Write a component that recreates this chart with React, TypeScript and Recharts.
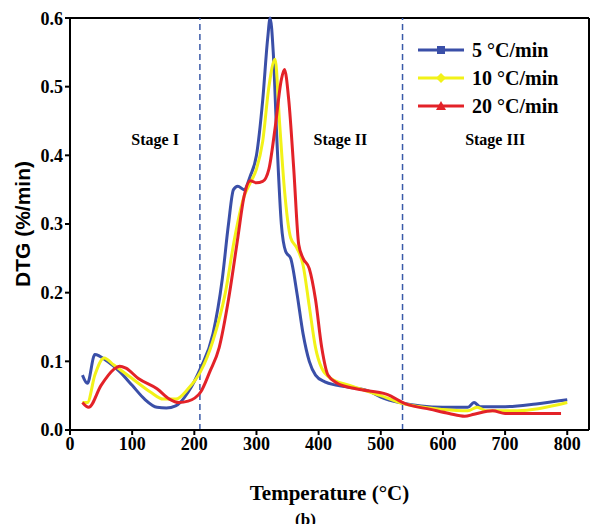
import React from 'react';
import { LineChart, Line, XAxis, YAxis, ReferenceLine, Label } from 'recharts';

const s5 = [[20,0.08],[28,0.068],[40,0.11],[60,0.1],[80,0.085],[100,0.065],[120,0.045],[140,0.033],[155,0.032],[170,0.035],[190,0.055],[210,0.09],[230,0.14],[245,0.22],[255,0.3],[263,0.35],[270,0.355],[280,0.35],[290,0.37],[300,0.4],[310,0.48],[318,0.57],[322,0.6],[327,0.55],[333,0.42],[340,0.3],[347,0.26],[355,0.25],[365,0.2],[375,0.14],[385,0.1],[395,0.08],[410,0.07],[430,0.065],[480,0.057],[500,0.048],[530,0.04],[600,0.033],[640,0.033],[650,0.04],[660,0.034],[700,0.034],[750,0.038],[800,0.044]];
const s10 = [[20,0.04],[28,0.04],[40,0.08],[55,0.105],[70,0.095],[100,0.075],[130,0.055],[150,0.045],[170,0.045],[190,0.06],[210,0.085],[230,0.13],[250,0.2],[265,0.28],[280,0.34],[290,0.36],[300,0.38],[310,0.42],[320,0.5],[330,0.54],[337,0.45],[345,0.35],[355,0.28],[365,0.265],[375,0.24],[385,0.18],[395,0.12],[405,0.09],[420,0.075],[450,0.065],[500,0.05],[530,0.04],[600,0.03],[640,0.028],[655,0.033],[670,0.028],[720,0.028],[800,0.04]];
const s20 = [[20,0.04],[30,0.033],[50,0.065],[70,0.088],[80,0.093],[90,0.09],[110,0.075],[140,0.06],[160,0.045],[175,0.04],[190,0.042],[210,0.055],[225,0.085],[240,0.12],[255,0.19],[270,0.28],[280,0.34],[290,0.363],[300,0.36],[310,0.362],[320,0.38],[330,0.44],[340,0.51],[345,0.525],[352,0.48],[360,0.38],[368,0.27],[375,0.25],[385,0.235],[395,0.19],[405,0.12],[415,0.08],[430,0.068],[460,0.06],[510,0.052],[540,0.038],[580,0.03],[610,0.024],[635,0.02],[650,0.023],[680,0.028],[700,0.024],[790,0.024]];
const xTicks = [0,100,200,300,400,500,600,700,800];
const yTicks = [0,0.1,0.2,0.3,0.4,0.5,0.6];
const stageLines = [209, 535];
const stages = [{ x: 137, text: 'Stage I' }, { x: 435, text: 'Stage II' }, { x: 684, text: 'Stage III' }];
const series = [
  { name: '5 °C/min', color: '#3a4fa8', data: s5 },
  { name: '10 °C/min', color: '#f2f218', data: s10 },
  { name: '20 °C/min', color: '#e32228', data: s20 },
];
const toRows = (d: number[][]) => d.map(([t, v]) => ({ t, v }));
const serif = '"Liberation Serif", "Times New Roman", serif';

const Stage = ({ viewBox, text }: any) => (
  <text x={viewBox.x} y={viewBox.y} fontFamily={serif} fontWeight="bold" fontSize={16} textAnchor="middle">{text}</text>
);
const YTitle = ({ viewBox }: any) => {
  const cx = 14, cy = viewBox.y + viewBox.height / 2;
  return (
    <text x={cx} y={cy} transform={`rotate(-90 ${cx} ${cy})`} textAnchor="middle" dominantBaseline="central"
      fontFamily='"Liberation Sans", Arial, sans-serif' fontWeight="bold" fontSize={21} fill="#000">DTG (%/min)</text>
  );
};

export default function App() {
  return (
    <div style={{ position: 'relative', width: 595, height: 516, background: '#fff' }}>
      <LineChart width={595} height={516} margin={{ top: 10, right: 14, bottom: 64, left: 8 }}>
        <XAxis type="number" dataKey="t" domain={[0, 835]} ticks={xTicks} allowDuplicatedCategory={false}
          stroke="#000" strokeWidth={2} tickSize={5} tick={{ fill: '#000', fontFamily: serif, fontWeight: 'bold', fontSize: 18 }} height={30}>
          <Label position="bottom" offset={25} value="Temperature (°C)" style={{ fontFamily: serif, fontWeight: 'bold', fontSize: 21, fill: '#000' }} />
        </XAxis>
        <YAxis type="number" domain={[0, 0.6]} ticks={yTicks} tickFormatter={(v: number) => v.toFixed(1)} width={54}
          stroke="#000" strokeWidth={2} tickSize={5} tick={{ fill: '#000', fontFamily: serif, fontWeight: 'bold', fontSize: 18 }}>
          <Label content={<YTitle />} />
        </YAxis>
        <ReferenceLine y={0.6} stroke="#000" strokeWidth={2} />
        <ReferenceLine x={835} stroke="#000" strokeWidth={2} />
        {stageLines.map((x) => <ReferenceLine key={x} x={x} stroke="#3a5aa8" strokeDasharray="6 4" strokeWidth={1.5} />)}
        {stages.map((s) => (
          <ReferenceLine key={s.text} segment={[{ x: s.x, y: 0.415 }, { x: s.x, y: 0.415 }]} stroke="none" label={<Stage text={s.text} />} />
        ))}
        {series.map((s) => (
          <Line key={s.name} data={toRows(s.data)} dataKey="v" name={s.name} type="monotone" stroke={s.color}
            strokeWidth={3} dot={false} isAnimationActive={false} />
        ))}
      </LineChart>
      <div style={{ position: 'absolute', left: 410, top: 28, fontFamily: serif, fontWeight: 'bold', fontSize: 20 }}>
        {series.map((s, i) => (
          <div key={s.name} style={{ display: 'flex', alignItems: 'center', height: 28 }}>
            <svg width={46} height={14}>
              <line x1={0} y1={7} x2={46} y2={7} stroke={s.color} strokeWidth={3} />
              {i === 0 && <rect x={19} y={3} width={8} height={8} fill={s.color} />}
              {i === 1 && <polygon points="23,2 28,7 23,12 18,7" fill={s.color} />}
              {i === 2 && <polygon points="23,2 28,11 18,11" fill={s.color} />}
            </svg>
            <span style={{ marginLeft: 8 }}>{s.name}</span>
          </div>
        ))}
      </div>
      <div style={{ position: 'absolute', left: 0, width: 595, top: 502, textAlign: 'center', fontFamily: serif, fontWeight: 'bold', fontSize: 17 }}>(b)</div>
    </div>
  );
}
